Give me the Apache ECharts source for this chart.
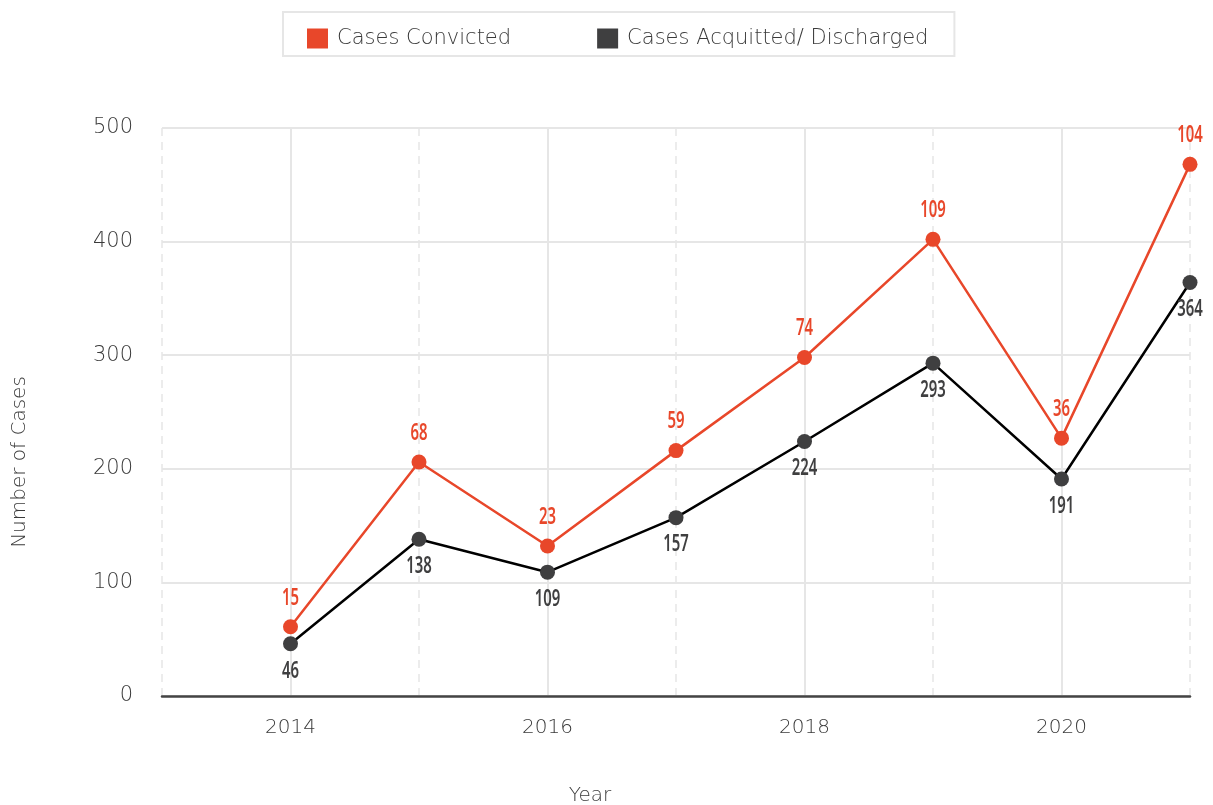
<!DOCTYPE html>
<html>
<head>
<meta charset="utf-8">
<script src="https://cdn.jsdelivr.net/npm/echarts@6/dist/echarts.min.js"></script>
<style>
  html, body { margin: 0; padding: 0; background: #fff; }
  #main { width: 1213px; height: 805px; }
</style>
</head>
<body>
<div id="main"></div>
<script>
// axis categories (2013 is only the left edge of the plot)
const axisYears = ['2013', '2014', '2015', '2016', '2017', '2018', '2019', '2020', '2021'];
const years = ['2014', '2015', '2016', '2017', '2018', '2019', '2020', '2021'];
const convicted = [15, 68, 23, 59, 74, 109, 36, 104];
const acquitted = [46, 138, 109, 157, 224, 293, 191, 364];
const yTicks = [0, 100, 200, 300, 400, 500];

const orange = '#e8472a';
const dark = '#3f3f40';
const txt = '#3a3a3a';
const gridCol = '#e6e6e6';
const baseFont = "'DejaVu Sans', sans-serif";
const labelFont = "'Noto Sans', sans-serif";

let chart = echarts.init(document.getElementById('main'), null, { renderer: 'canvas' });

// value labels: narrow text drawn at the library's own coordinates
function labelItem(params, api) {
  const x = api.value(0);
  const a = api.value(1);
  const c = api.value(2);
  const pA = api.coord([x, a]);
  const pC = api.coord([x, a + c]);
  const font = { fontFamily: labelFont, fontWeight: 600, fontSize: 24, align: 'center', verticalAlign: 'middle' };
  return {
    type: 'group',
    children: [
      { type: 'text', x: pA[0], y: pA[1] + 27, scaleX: 0.62,
        style: Object.assign({ text: String(a), fill: dark }, font) },
      { type: 'text', x: pC[0], y: pC[1] - 29, scaleX: 0.62,
        style: Object.assign({ text: String(c), fill: orange }, font) }
    ]
  };
}

let option = {
  animation: false,
  backgroundColor: '#fff',
  legend: {
    data: ['Cases Convicted', 'Cases Acquitted/ Discharged'],
    left: 283,
    top: 12,
    padding: [16, 26, 7, 24],
    borderColor: gridCol,
    borderWidth: 2,
    itemWidth: 21,
    itemHeight: 20,
    itemGap: 86,
    icon: 'rect',
    textStyle: { fontFamily: baseFont, fontWeight: 200, fontSize: 21, color: txt, padding: [0, 0, 0, 4] }
  },
  grid: { left: 162, right: 23, top: 128, bottom: 109, outerBoundsMode: 'none', containLabel: false },
  xAxis: [{
    type: 'category',
    data: axisYears,
    boundaryGap: false,
    name: 'Year',
    nameLocation: 'middle',
    nameGap: 90,
    nameTextStyle: { fontFamily: baseFont, fontWeight: 200, fontSize: 20, color: txt, padding: [0, 172, 0, 0] },
    axisLine: { lineStyle: { color: '#444', width: 2.5 } },
    axisTick: { show: false },
    axisLabel: {
      interval: (i) => i % 2 === 1,
      margin: 22,
      fontFamily: baseFont, fontWeight: 200, fontSize: 20, color: txt
    },
    splitLine: {
      show: true,
      interval: (i) => i % 2 === 1,
      lineStyle: { color: gridCol, width: 2 }
    }
  }, {
    type: 'category',
    data: axisYears,
    boundaryGap: false,
    position: 'top',
    axisLine: { show: false },
    axisTick: { show: false },
    axisLabel: { show: false },
    splitLine: {
      show: true,
      interval: (i) => i % 2 === 0,
      lineStyle: { color: gridCol, width: 1.5, type: [8, 6] }
    }
  }],
  yAxis: {
    type: 'value',
    min: yTicks[0],
    max: yTicks[yTicks.length - 1],
    interval: 100,
    name: 'Number of Cases',
    nameLocation: 'middle',
    nameGap: 132,
    nameTextStyle: { fontFamily: baseFont, fontWeight: 200, fontSize: 20, color: txt, padding: [0, 100, 0, 0] },
    axisLine: { show: false },
    axisTick: { show: false },
    axisLabel: { margin: 29, fontFamily: baseFont, fontWeight: 200, fontSize: 21, color: txt },
    splitLine: { lineStyle: { color: gridCol, width: 2 } }
  },
  series: [{
    name: 'Cases Acquitted/ Discharged',
    type: 'line',
    stack: 'cases',
    data: years.map((y, i) => [y, acquitted[i]]),
    color: dark,
    symbol: 'circle',
    symbolSize: 15,
    lineStyle: { color: '#000', width: 2.5 },
    itemStyle: { color: dark },
    z: 3
  }, {
    name: 'Cases Convicted',
    type: 'line',
    stack: 'cases',
    data: years.map((y, i) => [y, convicted[i]]),
    color: orange,
    symbol: 'circle',
    symbolSize: 15,
    lineStyle: { color: orange, width: 2.5 },
    itemStyle: { color: orange },
    z: 4
  }, {
    name: 'labels',
    type: 'custom',
    silent: true,
    renderItem: labelItem,
    encode: { x: 0, y: 1 },
    data: years.map((y, i) => [y, acquitted[i], convicted[i]]),
    z: 5
  }]
};
chart.setOption(option);
</script>
</body>
</html>
